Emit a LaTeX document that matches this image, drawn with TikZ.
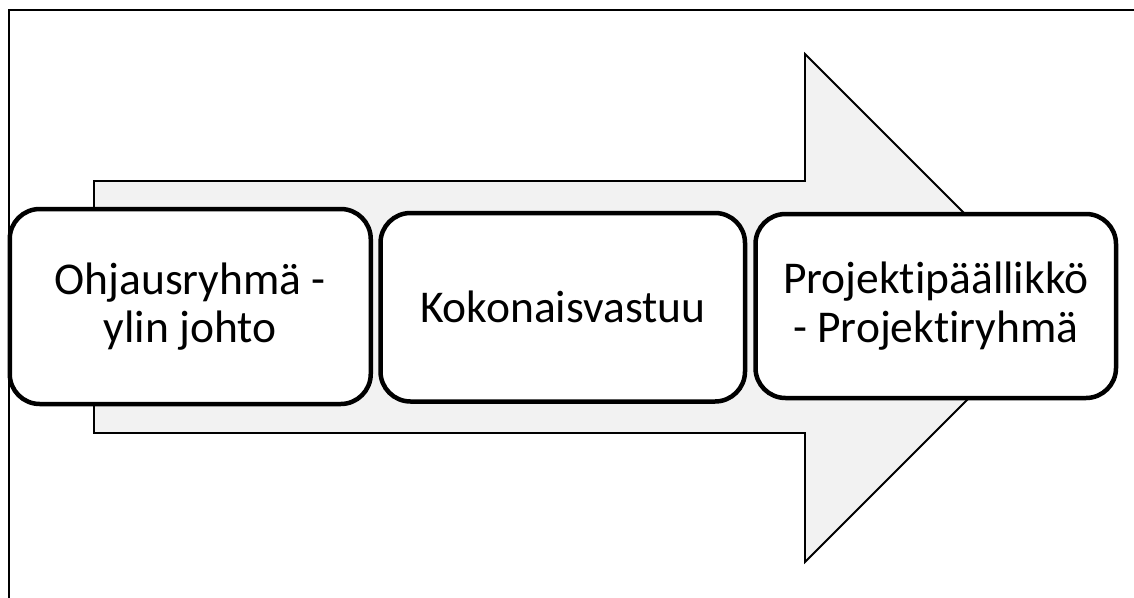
\documentclass[tikz,border=0pt]{standalone}
\usepackage{fontspec}
\setmainfont[Ligatures=NoCommon]{Carlito}
\begin{document}
\begin{tikzpicture}[x=1pt,y=-1pt,
  stagebox/.style={draw=black, fill=white, line width=4.5pt, rounded corners=30pt,
    align=center, inner sep=0pt, font=\fontsize{45.5}{48.5}\selectfont},
  bigarrow/.style={draw=black, fill=black!5, line width=1.8pt, line join=miter}]
\useasboundingbox (0,0) rectangle (1134,597);
\clip (0,0) rectangle (1134,597);
\fill[white] (0,0) rectangle (1134,597);
\draw[line width=2pt] (9,620) -- (9,10) -- (1160,10);
\draw[bigarrow] (94,181) -- (805,181) -- (805,54) -- (1059,308) -- (805,562) -- (805,433) -- (94,433) -- cycle;
\node[stagebox, minimum width=361pt, minimum height=195pt] (s1) at (190.25,306.5) {Ohjausryhmä -\\ylin johto};
\node[stagebox, minimum width=364.5pt, minimum height=188.5pt] (s2) at (562.75,307.25) {Kokonaisvastuu};
\node[stagebox, minimum width=360.5pt, minimum height=184pt] (s3) at (935.75,306) {Projektipäällikkö\\- Projektiryhmä};
\end{tikzpicture}
\end{document}
